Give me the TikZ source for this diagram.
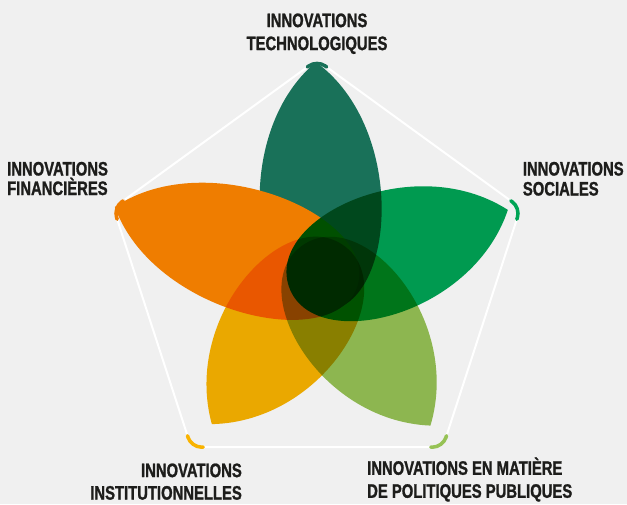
\documentclass[tikz,border=0pt]{standalone}
\usepackage{fontspec}
\newfontfamily\labelfont{Liberation Sans}[FakeStretch=0.76,FakeBold=1.2]
\usetikzlibrary{calc}
\definecolor{bgc}{RGB}{240,240,240}
\definecolor{textc}{RGB}{29,29,27}
\definecolor{tealc}{RGB}{25,113,89}
\definecolor{orangec}{RGB}{239,125,0}
\definecolor{greenc}{RGB}{0,164,85}
\definecolor{lgreenc}{RGB}{150,194,85}
\definecolor{yellowc}{RGB}{249,179,0}

\begin{document}
\begin{tikzpicture}[x=1pt,y=1pt]
	\tikzstyle{vertextext}=[inner sep=0pt, text=textc, font=\labelfont\bfseries\fontsize{19.5}{23}\selectfont]
	\tikzstyle{cornercap}=[line width=3.5pt, line cap=round, rounded corners=10pt]
	\fill[bgc] (0,0) rectangle (627,504);
	\useasboundingbox (0,0) rectangle (627,504);
	\coordinate (pc) at (317,230);
	\coordinate (fc) at (323,229);
	\foreach \i/\a in {1/90,2/18,3/-54,4/-126,5/162}
		\coordinate (v\i) at ($(pc)+(\a:214)$);
	\draw[white, line width=2pt, rounded corners=10pt] ($(v5)!0.5!(v1)$) -- (v1) -- (v2) -- (v3) -- (v4) -- (v5) -- cycle;
	% petals
	\foreach \ang/\len/\col/\bm in {91.9/213/tealc/normal, 161.9/219/orangec/normal, 19.4/196/greenc/multiply, -54.5/185/lgreenc/multiply, -126.7/186/yellowc/multiply}
		\fill[\col, blend mode=\bm, shift={(fc)}, rotate=\ang] (\len,0) .. controls (\len-70,90) and (-36,72) .. (-36,0) .. controls (-36,-72) and (\len-70,-90) .. cycle;
	\foreach \i/\p/\n/\col in {1/5/2/tealc, 2/1/3/greenc, 3/2/4/lgreenc, 4/3/5/yellowc, 5/4/1/orangec}
		\draw[cornercap, \col] ($(v\i)!12pt!(v\p)$) -- (v\i) -- ($(v\i)!12pt!(v\n)$);
	% labels
	\node[vertextext, align=center, anchor=north] (techno) at (317,490.7) {INNOVATIONS\\TECHNOLOGIQUES};
	\node[vertextext, align=left, anchor=north west] (finance) at (7,342.3) {INNOVATIONS\\[-3.5pt]FINANCIÈRES};
	\node[vertextext, align=left, anchor=north west] (social) at (522.7,342.3) {INNOVATIONS\\[-3pt]SOCIALES};
	\node[vertextext, align=right, anchor=north east] (institut) at (242,40.7) {INNOVATIONS\\[-0.5pt]INSTITUTIONNELLES};
	\node[vertextext, align=left, anchor=north west] (politique) at (367,46.7) {INNOVATIONS EN MATIÈRE\\DE POLITIQUES PUBLIQUES};
\end{tikzpicture}
\end{document}
